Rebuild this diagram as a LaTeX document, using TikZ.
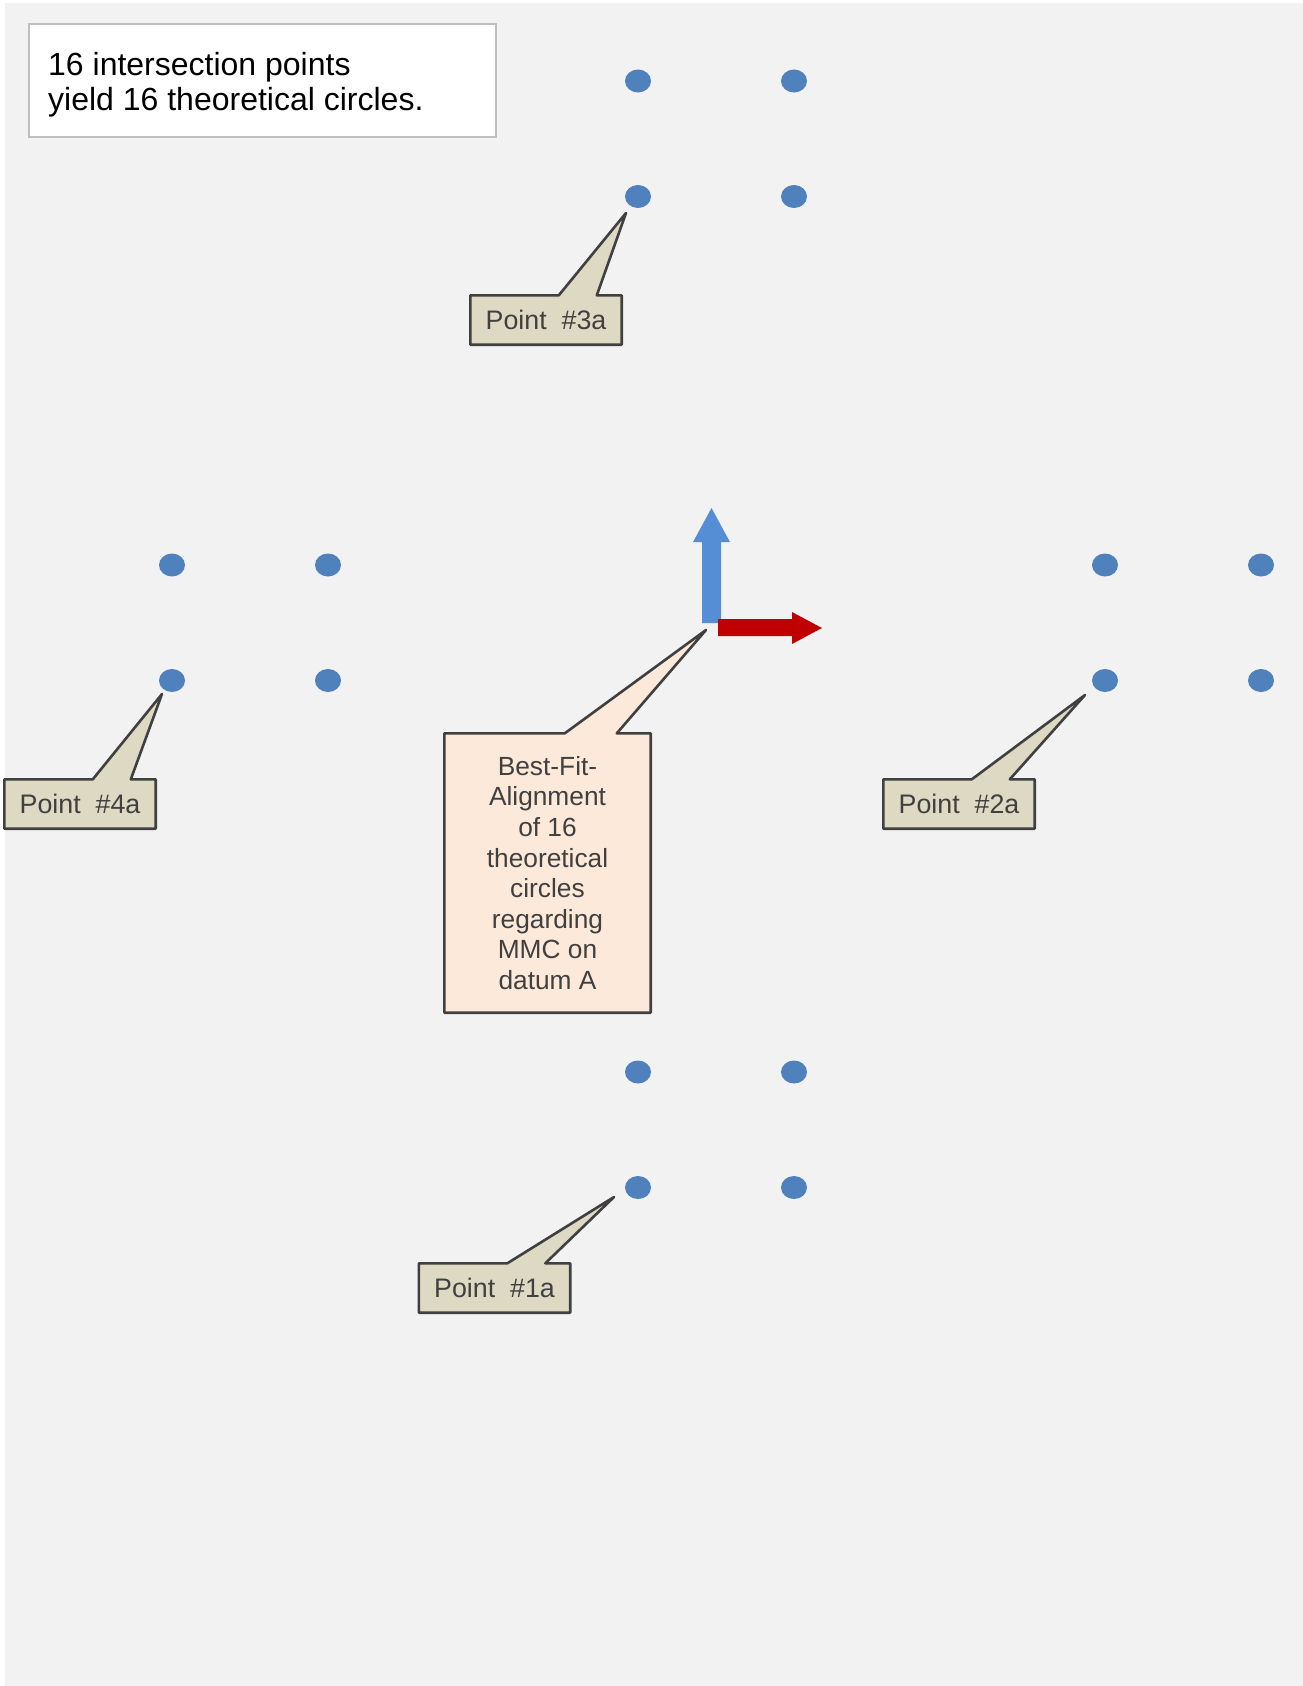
\documentclass[tikz,border=0pt]{standalone}
\usepackage{fontspec}
\setmainfont{Liberation Sans}
\usetikzlibrary{shapes.geometric,calc}
\pgfdeclarelayer{background}
\pgfsetlayers{background,main}
\definecolor{bg}{HTML}{F2F2F2}
\definecolor{dotblue}{HTML}{4F81BD}
\definecolor{tanfill}{HTML}{DDD9C3}
\definecolor{peach}{HTML}{FDE9D9}
\definecolor{outl}{HTML}{404040}
\definecolor{arrblue}{HTML}{558ED5}
\definecolor{arrred}{HTML}{C00000}
\definecolor{txtgray}{HTML}{404040}
\definecolor{boxgray}{HTML}{BFBFBF}
\begin{document}
\begin{tikzpicture}[x=1pt,y=-1pt,
  dot/.style={ellipse,fill=dotblue,draw=none,minimum width=26pt,minimum height=23pt,inner sep=0pt},
  ptbox/.style={minimum width=151pt,minimum height=49pt,inner sep=0pt,text=txtgray,font=\fontsize{26.8}{30}\selectfont},
  calloutline/.style={draw=outl,line width=2.6pt,line join=round}]
\useasboundingbox (0,0) rectangle (1303,1686);
\begin{pgfonlayer}{background}
\fill[bg] (5,3) rectangle (1303,1686);
\end{pgfonlayer}

% text box
\node[draw=boxgray,line width=1.8pt,fill=white,minimum width=467pt,minimum height=113pt,inner sep=0pt] (tb) at (262.5,80.5) {};
\node[anchor=north west,inner sep=0pt,align=left,font=\fontsize{32}{35.5}\selectfont] (tbtext) at (48,51.7) {16 intersection points\\yield 16 theoretical circles.};

% dots
\foreach \g/\cx/\cy in {T/638/81, L/172/565, R/1105/565, B/638/1072}{
  \node[dot] (\g a) at (\cx,\cy) {};
  \node[dot] (\g b) at (\cx+156,\cy) {};
  \node[dot] (\g c) at (\cx,\cy+115.5) {};
  \node[dot] (\g d) at (\cx+156,\cy+115.5) {};
}

% point callouts
\node[ptbox] (p3) at (546,320) {Point~~\#3a};
\coordinate (t3) at (626,213);
\node[ptbox] (p4) at (80,804) {Point~~\#4a};
\coordinate (t4) at (162,694);
\node[ptbox] (p2) at (959,804) {Point~~\#2a};
\coordinate (t2) at (1085,695);
\node[ptbox] (p1) at (494.5,1288) {Point~~\#1a};
\coordinate (t1) at (614,1197);

\node[minimum width=206pt,minimum height=279pt,inner sep=0pt,align=center,text=txtgray,font=\fontsize{26.3}{30.6}\selectfont] (bf) at (547.5,873) {Best-Fit-\\Alignment\\of 16\\theoretical\\circles\\regarding\\MMC on\\datum A};
\coordinate (tbf) at (706,630);

\begin{pgfonlayer}{background}
\foreach \p/\t in {p3/t3,p4/t4,p2/t2,p1/t1}{
  \draw[calloutline,fill=tanfill] (\p.north west) -- ([xshift=88.5pt]\p.north west) -- (\t) -- ([xshift=126.5pt]\p.north west) -- (\p.north east) -- (\p.south east) -- (\p.south west) -- cycle;
}
\draw[calloutline,fill=peach] (bf.north west) -- ([xshift=120.5pt]bf.north west) -- (tbf) -- ([xshift=172.5pt]bf.north west) -- (bf.north east) -- (bf.south east) -- (bf.south west) -- cycle;
\end{pgfonlayer}

% axis arrows
\fill[arrblue] (702,623) -- (702,542) -- (693,542) -- (711.5,508) -- (730,542) -- (721,542) -- (721,623) -- cycle;
\fill[arrred] (718,619) -- (792,619) -- (792,612) -- (822,628) -- (792,644) -- (792,636) -- (718,636) -- cycle;
\end{tikzpicture}
\end{document}
